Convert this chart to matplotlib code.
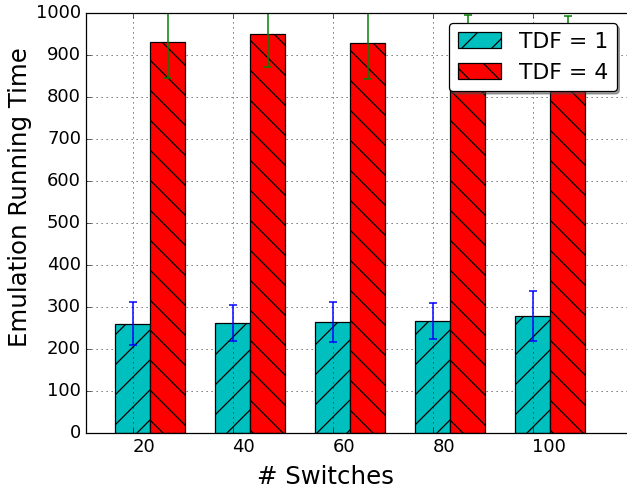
import matplotlib
matplotlib.use("Agg")
import matplotlib.pyplot as plt
import numpy as np

plt.style.use("classic")

# Emulation running time per network size
switches = ["20", "40", "60", "80", "100"]
tdf1_mean = [260, 262, 264, 266, 278]
tdf1_err = [51, 43, 48, 43, 60]
tdf4_mean = [930, 950, 929, 916, 915]
tdf4_err = [85, 80, 87, 78, 78]

DPI = 90
fig = plt.figure(figsize=(627 / DPI, 490 / DPI), dpi=DPI, facecolor="white")
ax = fig.add_axes([86 / 627, (490 - 432.7) / 490, 560 / 627, 420 / 490])

ind = np.arange(len(switches))
width = 0.35

ekw = dict(elinewidth=1.2, capthick=1.2)
b1 = ax.bar(ind, tdf1_mean, width, color="c", hatch="/", edgecolor="k",
            yerr=tdf1_err, ecolor="b", capsize=3, error_kw=ekw)
b2 = ax.bar(ind + width, tdf4_mean, width, color="r", hatch="\\", edgecolor="k",
            yerr=tdf4_err, ecolor="g", capsize=3, error_kw=ekw)

ax.set_xlim(-0.465, 5.135)
ax.set_ylim(0, 1000)
ax.set_yticks(np.arange(0, 1001, 100))
ax.set_xticks(ind)
ax.set_xticklabels(switches, ha="left")
ax.tick_params(labelsize=14.4)

# horizontal grid behind the bars, vertical grid on top of them
ax.grid(True, linestyle=":", color="k")
ax.set_axisbelow(True)
ax.xaxis.set_zorder(1.5)

ax.set_xlabel("# Switches", fontsize=19.5)
ax.set_ylabel("Emulation Running Time", fontsize=19.5)
ax.xaxis.set_label_coords(0.427, -0.078)
ax.yaxis.set_label_coords(-0.097, 0.56)

ax.legend((b1[0], b2[0]), ("TDF = 1", "TDF = 4"), loc="upper right",
          fancybox=True, shadow=True, fontsize=17.5, borderaxespad=0,
          bbox_to_anchor=(0.948, 0.9755))

fig.savefig("out.png", dpi=DPI, facecolor="white")
